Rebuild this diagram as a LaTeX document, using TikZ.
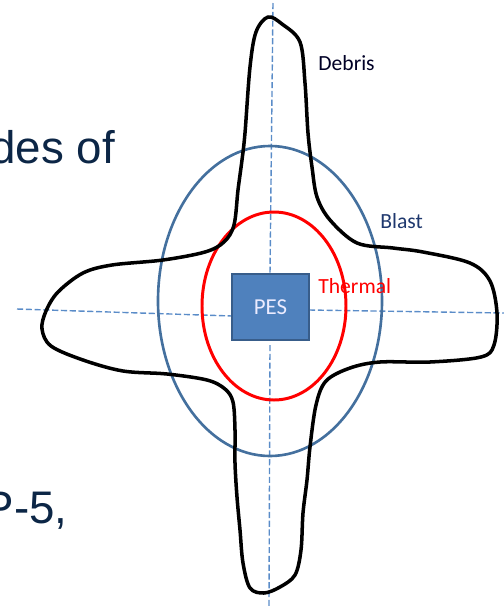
\documentclass[tikz,border=0pt]{standalone}
\usepackage{fontspec}
\setmainfont{Liberation Sans}
\newfontfamily\lblfont{Carlito}
\usetikzlibrary{calc}

\definecolor{slidenavy}{RGB}{12,38,70}
\definecolor{axisblue}{RGB}{90,140,200}
\definecolor{blastblue}{RGB}{68,112,158}
\definecolor{blastlbl}{RGB}{31,56,110}
\definecolor{pesfill}{RGB}{79,129,189}
\definecolor{pesline}{RGB}{56,93,138}

\begin{document}
\begin{tikzpicture}[x=0.02cm, y=-0.02cm,
    axis/.style = {axisblue, line width=0.8pt, dash pattern=on 3.5pt off 1.5pt},
    lbl/.style = {anchor=base west, inner sep=0pt, font=\lblfont\fontsize{12.3}{14}\selectfont},
    bigtxt/.style = {inner sep=0pt, text=slidenavy, font=\fontsize{26}{30}\selectfont}]
    % Page frame
    \clip (0,0) rectangle (504,606);

    % Slide text cut by the picture
    \node[bigtxt, anchor=base west] (txtA) at (-10,163) {des of};
    \node[bigtxt, anchor=base east] (txtB) at (68,523) {P-5,};

    % Centre of the site
    \coordinate (O) at (271,308);

    % Dashed axes
    \draw[axis] (273,3) -- (270,274);
    \draw[axis] (270,345) -- (269,606);
    \draw[axis] (17,309) -- (232,316);
    \draw[axis] (309,310) -- (504,313);

    % Blast zone
    \draw[blastblue, line width=1.5pt] (270,301) ellipse (112 and 155);
    % Thermal zone
    \draw[red, line width=1.7pt] (274,306) ellipse (72 and 94);

    % Debris zone
    \draw[black, line width=2pt, line join=round] plot[smooth cycle, tension=0.55] coordinates {
        (268,17) (282,24) (300,42) (305,83) (308,133) (312,167) (317,197)
        (330,220) (357,243) (393,248) (423,252) (470,263) (490,281) (497,313)
        (494,345) (481,357) (430,362) (380,362) (350,368) (326,381) (316,405)
        (310,447) (307,480) (303,513) (301,550) (295,575) (280,587) (264,593)
        (250,588) (243,563) (240,530) (237,497) (235,463) (235,430) (233,402)
        (225,389) (207,380) (167,374) (123,371) (83,360) (51,346) (42,329)
        (46,311) (58,292) (83,273) (112,265) (163,260) (205,252) (224,242)
        (234,225) (238,190) (242,160) (245,133) (250,67) (256,32)};

    % Site box
    \node[draw=pesline, fill=pesfill, line width=0.6pt, minimum width=77*0.02cm,
          minimum height=66*0.02cm, inner sep=0pt, text=white!92!blue,
          font=\lblfont\fontsize{13}{15}\selectfont] (pes) at (270.5,307) {PES};

    % Zone labels
    \node[lbl, text=black!85!blue] (debris) at (318,70) {Debris};
    \node[lbl, text=blastlbl] (blast) at (380,228) {Blast};
    \node[lbl, text=red] (thermal) at (318,293) {Thermal};
\end{tikzpicture}
\end{document}
